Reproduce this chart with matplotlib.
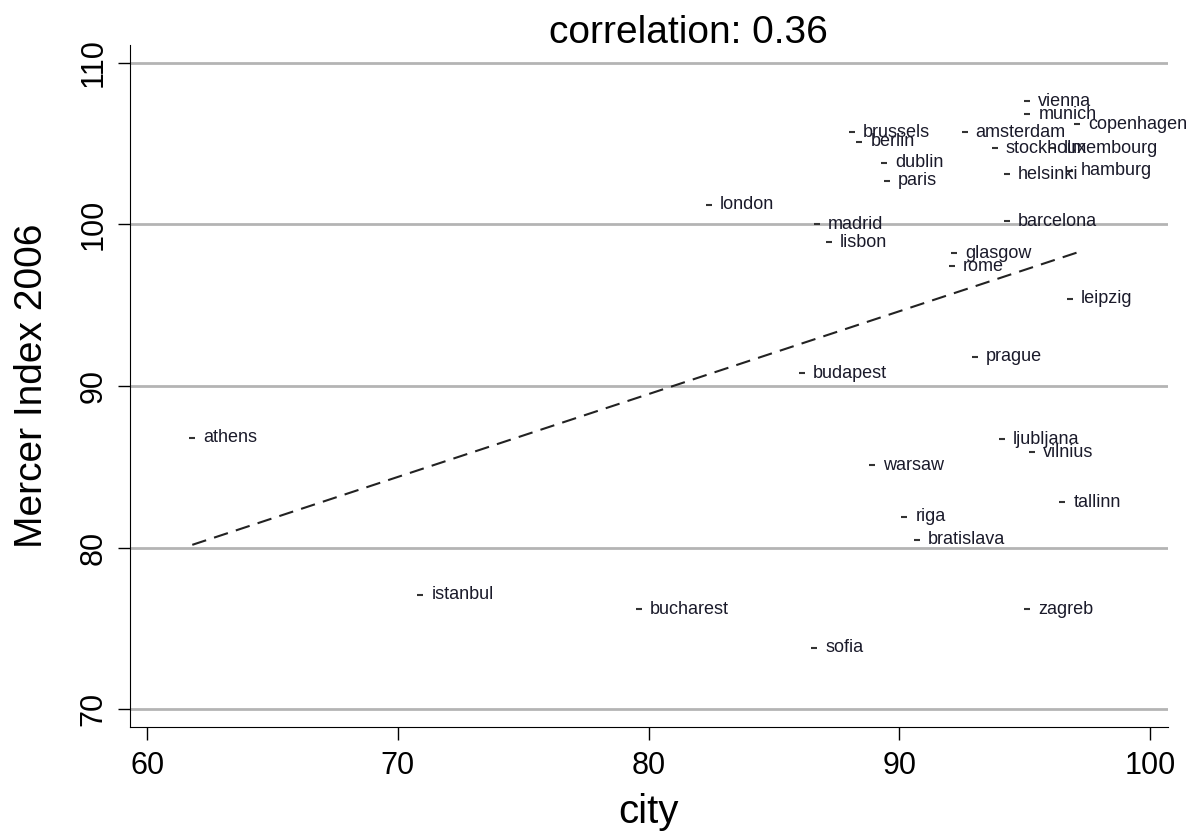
import matplotlib.pyplot as plt
import numpy as np

plt.rcParams['font.family'] = ['Liberation Sans', 'DejaVu Sans']

cities = ['athens', 'istanbul', 'bucharest', 'sofia', 'london', 'madrid', 'lisbon',
          'budapest', 'brussels', 'berlin', 'dublin', 'paris', 'warsaw', 'riga',
          'bratislava', 'amsterdam', 'stockholm', 'helsinki', 'barcelona', 'glasgow',
          'rome', 'prague', 'ljubljana', 'vilnius', 'tallinn', 'zagreb', 'vienna',
          'munich', 'copenhagen', 'luxembourg', 'hamburg', 'leipzig']
city_x = [61.8, 70.9, 79.6, 86.6, 82.4, 86.7, 87.2,
          86.1, 88.1, 88.4, 89.4, 89.5, 88.9, 90.2,
          90.7, 92.6, 93.8, 94.3, 94.3, 92.2,
          92.1, 93.0, 94.1, 95.3, 96.5, 95.1, 95.1,
          95.1, 97.1, 96.1, 96.8, 96.8]
mercer = [86.8, 77.1, 76.2, 73.8, 101.2, 100.0, 98.9,
          90.8, 105.7, 105.1, 103.8, 102.7, 85.1, 81.9,
          80.5, 105.7, 104.7, 103.1, 100.2, 98.2,
          97.4, 91.8, 86.7, 85.9, 82.8, 76.2, 107.6,
          106.8, 106.2, 104.7, 103.3, 95.4]

x = np.array(city_x)
y = np.array(mercer)
slope, icpt = np.polyfit(x, y, 1)

fig = plt.figure(figsize=(11.89, 8.31), dpi=100)
ax = fig.add_axes([0.109, 0.125, 0.873, 0.821])

for gy in [70, 80, 90, 100, 110]:
    ax.axhline(gy, color='#b4b4b4', lw=2, zorder=0)

# linear fit over the data range
xs = np.array([x.min(), x.max()])
ax.plot(xs, icpt + slope * xs, color='#222222', lw=1.5, dashes=(7, 4))

ax.scatter(x, y, marker='_', s=20, color='#333333', lw=1.5)
for c, xi, yi in zip(cities, x, y):
    ax.annotate(c, (xi, yi), xytext=(8, 0), textcoords='offset points',
                va='center', ha='left', fontsize=13, color='#1a1a2a')

ax.set_xlim(59.3, 100.7)
ax.set_ylim(68.9, 111.1)
ax.set_xticks([60, 70, 80, 90, 100])
ax.set_yticks([70, 80, 90, 100, 110])
ax.tick_params(axis='x', labelsize=22, length=9, width=1, pad=8)
ax.tick_params(axis='y', labelsize=22, length=9, width=1, pad=6, labelrotation=90)
for lab in ax.get_yticklabels():
    lab.set_va('center')
ax.spines['top'].set_visible(False)
ax.spines['right'].set_visible(False)
ax.set_xlabel('city', fontsize=29)
ax.set_ylabel('Mercer Index 2006', fontsize=28)
ax.xaxis.set_label_coords(0.5, -0.097)
ax.yaxis.set_label_coords(-0.077, 0.5)
ax.set_title('correlation: 0.36', fontsize=28, pad=1.5, x=0.5385, y=1.0)

fig.savefig('out.png')
